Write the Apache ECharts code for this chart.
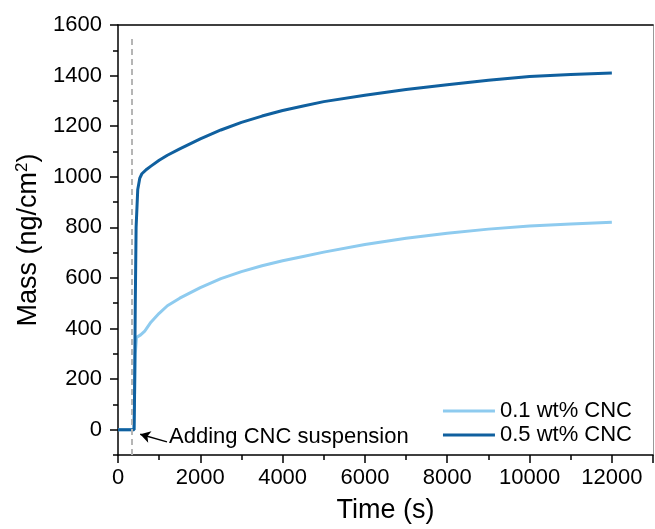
<!DOCTYPE html>
<html>
<head>
<meta charset="utf-8">
<script src="https://cdn.jsdelivr.net/npm/echarts@6/dist/echarts.min.js"></script>
<style>
  html, body { margin: 0; padding: 0; background: #fff; }
  #chart { width: 655px; height: 529px; }
</style>
</head>
<body>
<div id="chart"></div>
<script>
// time (s) and mass (ng/cm2)
var timeDark = [0, 200, 390, 400, 420, 440, 480, 530, 580, 700, 800, 1000, 1200, 1500, 2000, 2500, 3000, 3500, 4000, 4500, 5000, 6000, 7000, 8000, 9000, 10000, 11000, 12000];
var massDark = [0, 0, 0, 100, 500, 800, 950, 995, 1012, 1030, 1042, 1065, 1085, 1110, 1150, 1185, 1215, 1240, 1262, 1280, 1297, 1322, 1345, 1364, 1382, 1396, 1404, 1410];

var timeLight = [0, 200, 390, 400, 420, 450, 550, 650, 800, 1000, 1200, 1500, 2000, 2500, 3000, 3500, 4000, 4500, 5000, 6000, 7000, 8000, 9000, 10000, 11000, 12000];
var massLight = [0, 0, 0, 100, 300, 365, 375, 390, 425, 460, 490, 520, 562, 597, 625, 648, 668, 685, 702, 732, 757, 777, 793, 805, 813, 820];

var seriesNames = ['0.1 wt% CNC', '0.5 wt% CNC'];
var yMajorTicks = [0, 200, 400, 600, 800, 1000, 1200, 1400, 1600];
var yMinorTicks = [-100, 100, 300, 500, 700, 900, 1100, 1300, 1500];
var injectTime = 340;
var noteText = 'Adding CNC suspension';

function pairs(xs, ys) {
  return xs.map(function (x, i) { return [x, ys[i]]; });
}

var font = 'Liberation Sans, Arial, sans-serif';
var black = { color: '#000', width: 1.5 };
var myChart = echarts.init(document.getElementById('chart'));
var option = {
  animation: false,
  backgroundColor: '#fff',
  textStyle: { fontFamily: font, color: '#000' },
  grid: { left: 118, top: 25, right: 2, bottom: 71 },
  legend: {
    data: seriesNames,
    orient: 'vertical',
    right: 18,
    top: 395,
    icon: 'rect',
    itemWidth: 52,
    itemHeight: 3,
    itemGap: 2,
    textStyle: { fontSize: 22, fontFamily: font, color: '#000' }
  },
  xAxis: [{
    type: 'value',
    min: 0,
    max: 13000,
    interval: 2000,
    name: 'Time (s)',
    nameLocation: 'middle',
    nameGap: 42,
    nameTextStyle: { fontSize: 27, fontFamily: font, color: '#000' },
    axisLine: { onZero: false, lineStyle: black },
    axisTick: { length: 8, lineStyle: black },
    minorTick: { show: true, splitNumber: 2, length: 5, lineStyle: black },
    axisLabel: {
      fontSize: 22, color: '#000', margin: 12, showMaxLabel: false,
      formatter: function (v) { return String(v); }
    },
    splitLine: { show: false }
  }, {
    type: 'value',
    position: 'top',
    min: 0,
    max: 13000,
    axisLine: { onZero: false, lineStyle: black },
    axisTick: { show: false },
    axisLabel: { show: false },
    splitLine: { show: false }
  }],
  yAxis: [{
    type: 'value',
    min: -100,
    max: 1600,
    name: 'Mass (ng/cm{sup|2})',
    nameLocation: 'middle',
    nameRotate: 90,
    nameGap: 62,
    nameTextStyle: {
      fontSize: 27, fontFamily: font, color: '#000',
      rich: { sup: { fontSize: 17, fontFamily: font, color: '#000', padding: [0, 0, 12, 0] } }
    },
    axisLine: { onZero: false, lineStyle: black },
    axisTick: { length: 8, lineStyle: black, customValues: yMajorTicks },
    axisLabel: {
      fontSize: 22, color: '#000', margin: 16, customValues: yMajorTicks,
      formatter: function (v) { return String(v); }
    },
    splitLine: { show: false }
  }, {
    type: 'value',
    position: 'right',
    min: -100,
    max: 1600,
    axisLine: { show: true, onZero: false, lineStyle: { color: '#999', width: 1 } },
    axisTick: { show: false },
    axisLabel: { show: false },
    splitLine: { show: false }
  }, {
    // minor ticks on the left axis
    type: 'value',
    position: 'left',
    offset: 0,
    min: -100,
    max: 1600,
    axisLine: { show: false },
    axisTick: { show: true, length: 5, lineStyle: black, customValues: yMinorTicks },
    axisLabel: { show: false },
    splitLine: { show: false }
  }],
  series: [{
    name: seriesNames[0],
    type: 'line',
    data: pairs(timeLight, massLight),
    showSymbol: false,
    lineStyle: { color: '#8ecbef', width: 3 },
    itemStyle: { color: '#8ecbef' },
    z: 2
  }, {
    name: seriesNames[1],
    type: 'line',
    data: pairs(timeDark, massDark),
    showSymbol: false,
    lineStyle: { color: '#10609f', width: 3 },
    itemStyle: { color: '#10609f' },
    z: 3,
    markLine: {
      silent: true,
      symbol: ['none', 'none'],
      label: { show: false },
      lineStyle: { color: '#b5b5b5', type: [6, 4], width: 2 },
      data: [
        [{ coord: [injectTime, -100] }, { coord: [injectTime, 1560] }]
      ]
    }
  }, {
    name: 'note',
    type: 'line',
    data: [],
    markLine: {
      silent: true,
      symbol: ['none', 'arrow'],
      symbolSize: [9, 10],
      label: { show: false },
      lineStyle: { color: '#000', type: 'solid', width: 1.5, curveness: -0.4 },
      data: [
        [{ coord: [1190, -48] }, { coord: [540, -18] }]
      ]
    },
    markPoint: {
      silent: true,
      symbol: 'circle',
      symbolSize: 0,
      label: {
        show: true, position: 'right', distance: 0,
        formatter: noteText,
        fontSize: 22, fontFamily: font, color: '#000'
      },
      data: [{ coord: [1240, -28] }]
    }
  }]
};
myChart.setOption(option);
</script>
</body>
</html>
